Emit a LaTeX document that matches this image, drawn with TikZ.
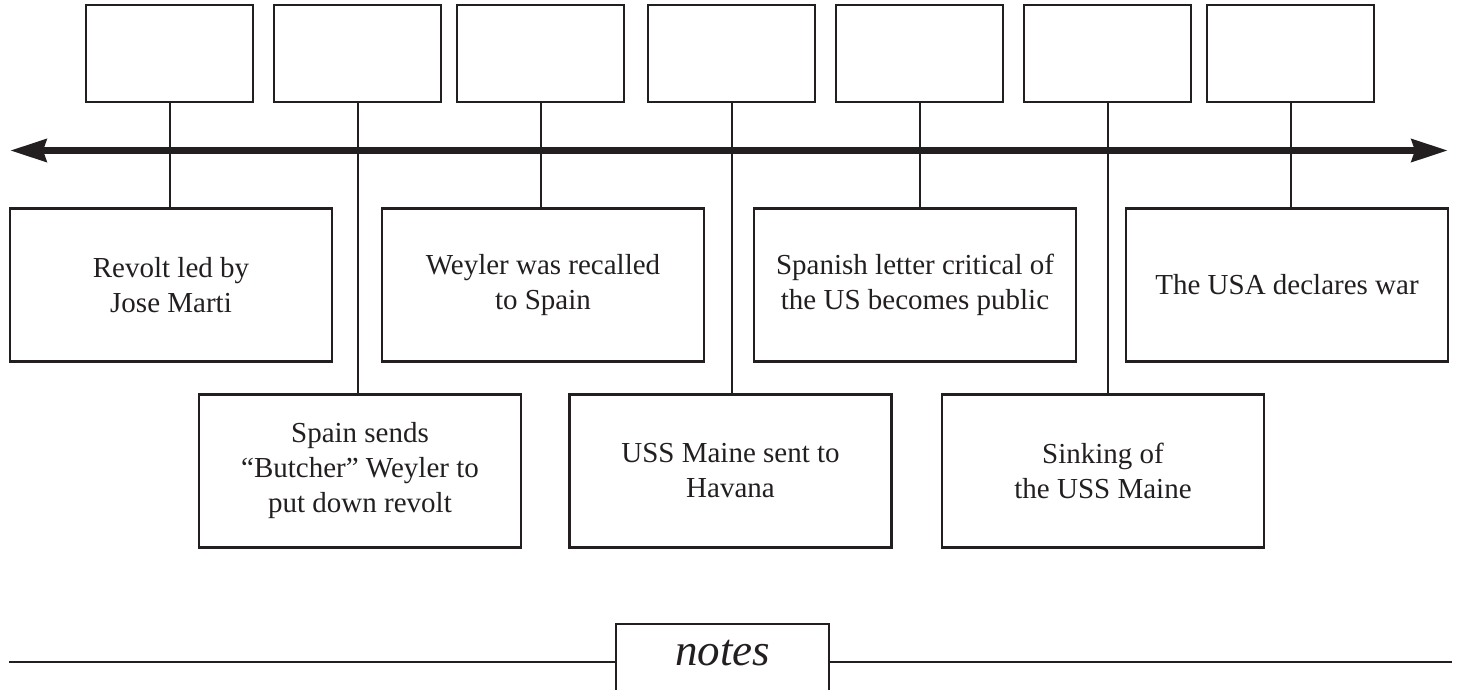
\documentclass[tikz,border=0pt]{standalone}
\usepackage{fontspec}
\setmainfont{Liberation Serif}
\usetikzlibrary{arrows.meta}
\definecolor{ink}{HTML}{231F20}
\begin{document}
\begin{tikzpicture}[x=1pt,y=-1pt,
  topbox/.style={draw=ink, line width=2.3pt, minimum width=167pt, minimum height=97pt, inner sep=0pt},
  eventbox/.style={draw=ink, line width=2.3pt, minimum width=322pt, minimum height=153pt, align=center,
    font=\fontsize{29}{35}\selectfont, text=ink, inner sep=0pt},
  stem/.style={draw=ink, line width=2pt},
  axistip/.tip={Stealth[length=36pt,width=22pt,inset=3pt]},
]
\useasboundingbox (0,0) rectangle (1458,689);
\clip (0,0) rectangle (1458,689);

% top (empty) boxes
\node[topbox] (t1) at (169.5,53.5) {};
\node[topbox] (t2) at (357.5,53.5) {};
\node[topbox] (t3) at (540.5,53.5) {};
\node[topbox] (t4) at (731.5,53.5) {};
\node[topbox] (t5) at (919.5,53.5) {};
\node[topbox] (t6) at (1107.5,53.5) {};
\node[topbox] (t7) at (1290.5,53.5) {};

% event boxes
\node[eventbox] (b1) at (171,285) {Revolt led by\\Jose Marti};
\node[eventbox] (b2) at (360,471) {Spain sends\\``Butcher'' Weyler to\\put down revolt};
\node[eventbox] (b3) at (543,285) {Weyler was recalled\\to Spain};
\node[eventbox] (b4) at (730.5,471) {USS Maine sent to\\Havana};
\node[eventbox] (b5) at (915,285) {Spanish letter critical of\\the US becomes public};
\node[eventbox] (b6) at (1103,471) {Sinking of\\the USS Maine};
\node[eventbox] (b7) at (1287,285) {The USA declares war};

% stems
\foreach \i in {1,...,7}{
  \draw[stem] (t\i.south) -- (t\i.south |- b\i.north);
}

% time axis
\coordinate (axL) at (10,150.5);
\coordinate (axR) at (1448,150.5);
\draw[draw=ink, fill=ink, line width=7.5pt, {axistip}-{axistip}] (axL) -- (axR);

% notes
\node[draw=ink, line width=2.3pt, minimum width=213pt, minimum height=100pt, anchor=north, inner sep=0pt] (notesbox) at (722.5,623) {};
\node[anchor=base, text=ink, font=\fontsize{45}{54}\selectfont\itshape, inner sep=0pt] (notestext) at (722.5,665) {notes};
\coordinate (nl) at (9,661.7);
\coordinate (nr) at (1452,661.7);
\draw[ink, line width=2.4pt] (nl) -- (nl -| notesbox.west);
\draw[ink, line width=2.4pt] (nr -| notesbox.east) -- (nr);
\end{tikzpicture}
\end{document}
